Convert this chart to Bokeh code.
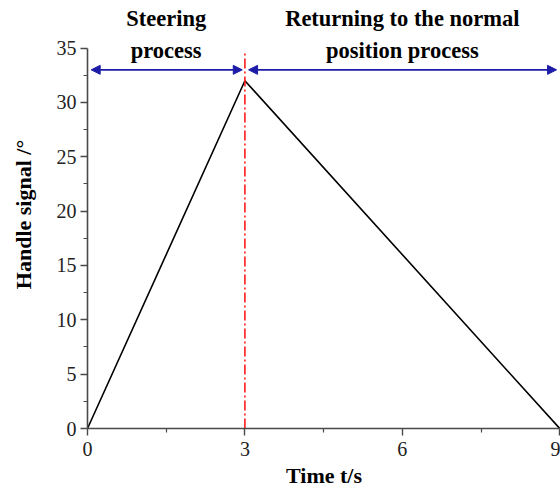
from bokeh.plotting import figure
from bokeh.models import FixedTicker, Arrow, NormalHead, ColumnDataSource
from bokeh.core.properties import value
from bokeh.embed import file_html
from bokeh.resources import INLINE

# Handle signal over time: ramp up while steering, ramp down while returning
time_s = [0, 3, 9]
handle_deg = [0, 32, 0]

# Boundary between the two phases
divider_x = [3, 3]
divider_y = [0, 34.6]

# Phase spans (double-headed arrows) and their captions
arrow_y = 33
arrow_start = [0.07, 3.07]
arrow_end = [2.95, 8.94]
phase_x = [1.5, 6.0]
phase_y = [33.6, 33.6]
phase_text = ["Steering\nprocess", "Returning to the normal\nposition process"]

x_ticks = [0, 3, 6, 9]
y_ticks = [0, 5, 10, 15, 20, 25, 30, 35]

SERIF = "Liberation Serif"
BLUE = "#1c1ca8"

p = figure(width=560, height=493, output_backend="svg", toolbar_location=None,
           x_range=(0, 9.015), y_range=(0, 39.38),
           min_border_left=87, min_border_right=0, min_border_top=0,
           min_border_bottom=65)
p.outline_line_color = None
p.grid.visible = False
p.background_fill_color = "white"

# Triangle line
p.line(time_s, handle_deg, line_color="black", line_width=1.6)

# Red dash-dot divider
p.line(divider_x, divider_y, line_color="#ff1a1a", line_width=1.6,
       line_dash="10 3 2 3")

# Double arrows for each phase
for xs, xe in zip(arrow_start, arrow_end):
    p.add_layout(Arrow(x_start=xs, y_start=arrow_y, x_end=xe, y_end=arrow_y,
                       line_color=BLUE, line_width=1.6,
                       start=NormalHead(size=9, fill_color=BLUE, line_color=BLUE),
                       end=NormalHead(size=9, fill_color=BLUE, line_color=BLUE)))

src = ColumnDataSource(dict(x=phase_x, y=phase_y, t=phase_text))
p.text(x="x", y="y", text="t", source=src, text_align="center",
       text_baseline="bottom", text_font=value(SERIF), text_font_style="bold",
       text_font_size="22.5px", text_color="black", text_line_height=1.3)

# Axes
for ax in (p.xaxis[0], p.yaxis[0]):
    ax.axis_line_color = "#4a4a4a"
    ax.axis_line_width = 1.6
    ax.major_tick_line_color = "#4a4a4a"
    ax.minor_tick_line_color = "#4a4a4a"
    ax.major_tick_line_width = 1.4
    ax.minor_tick_line_width = 1.2
    ax.major_tick_in = 0
    ax.major_tick_out = 7
    ax.minor_tick_in = 0
    ax.minor_tick_out = 4
    ax.major_label_text_font = SERIF
    ax.major_label_text_font_size = "20px"
    ax.major_label_text_color = "#222222"
    ax.axis_label_text_font = SERIF
    ax.axis_label_text_font_style = "bold"
    ax.axis_label_text_font_size = "22px"
    ax.axis_label_text_color = "black"

p.xaxis.ticker = FixedTicker(ticks=x_ticks, minor_ticks=[1.5, 4.5, 7.5])
p.yaxis.ticker = FixedTicker(ticks=y_ticks,
                             minor_ticks=[2.5, 7.5, 12.5, 17.5, 22.5, 27.5, 32.5])
p.xaxis.bounds = (0, 9)
p.yaxis.bounds = (0, 35)
p.xaxis.axis_label = "Time t/s"
p.yaxis.axis_label = "Handle signal /°"
p.xaxis.major_label_standoff = 6
p.yaxis.major_label_standoff = 4
p.xaxis.axis_label_standoff = 4
p.yaxis.axis_label_standoff = 18

open("out.html", "w").write(file_html(p, INLINE))
